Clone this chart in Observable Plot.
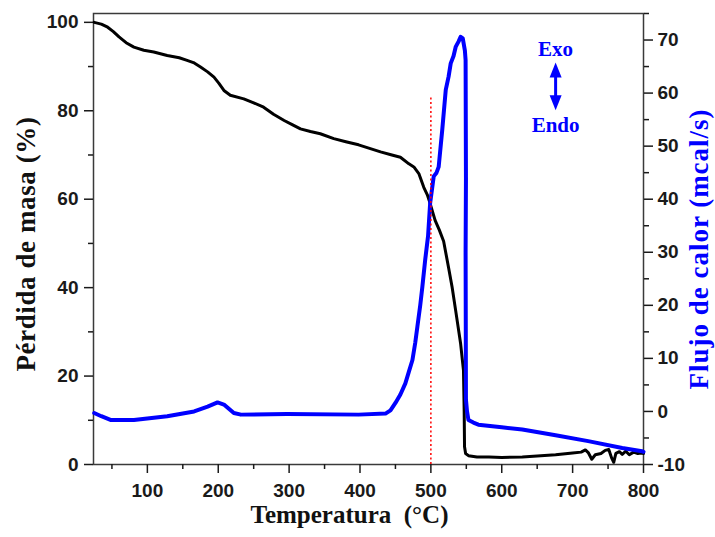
<!DOCTYPE html>
<html>
<head>
<meta charset="utf-8">
<script src="https://cdn.jsdelivr.net/npm/d3@7"></script>
<script src="https://cdn.jsdelivr.net/npm/@observablehq/plot@0.6"></script>
<style>
  html, body { margin: 0; padding: 0; background: #fff; }
  #chart svg { display: block; }
</style>
</head>
<body>
<div id="chart"></div>
<script>
// ---- Data ----
const temperaturaMasa = [25,35,44,52,60,70,81,95,109,128,145,156,165,175,185,194,201,208,217,236,250,264,278,293,305,316,330,344,363,380,398,429,445,457,469,476,483,490,495,499,506,512,518,525,530,535,542,546,547,547.5,549,553,565,582,600,629,650,676,700,712,718,722,727,732,740,746,751,755,758,761,766,770,775,780,786,792,797,800];
const perdidaMasa = [100,99.6,98.9,97.9,96.7,95.4,94.4,93.7,93.3,92.5,92,91.4,90.9,89.9,88.8,87.6,86.2,84.6,83.5,82.7,81.8,80.8,79.2,77.8,76.8,75.9,75.3,74.8,73.7,73,72.3,70.7,70,69.5,68,67.3,65.8,62.7,61,59,55.2,53,50.5,44.5,40.1,34.8,27.3,21.3,12,4,2.5,2,1.7,1.7,1.6,1.7,1.9,2.2,2.6,2.8,3.3,2.7,1.2,2.2,2.5,3.2,3.4,1.5,0.5,2.5,2.9,2.3,3,2.2,2.8,2.5,2.6,2.5];

const temperaturaCalor = [25,35,48,81,128,166,185,199,208,222,232,297,398,436,443,450,457,464,469,474,478,481,485,488,492,496,499,504,508,511,516,521,525,528,532,535,539,542,545,548,549,549.5,549,549.5,551,553,560,567,600,629,676,722,770,798,800];
const flujoCalor = [-0.3,-0.9,-1.6,-1.6,-0.9,0,0.9,1.7,1.3,-0.3,-0.6,-0.5,-0.6,-0.4,0.2,1.6,3.2,5.3,7.5,9.7,13,16,20,23.5,28.6,33,39.3,44.3,45,46.1,53,60.6,63.1,65.6,67,68.7,69.7,70.6,70.3,68,66.2,44,30,2.2,0,-1.6,-2.1,-2.5,-3,-3.4,-4.5,-5.6,-6.9,-7.5,-7.6];

const xTicks = [100,200,300,400,500,600,700,800];
const xMinorTicks = [50,150,250,350,450,550,650,750];
const yLeftTicks = [0,20,40,60,80,100];
const yLeftMinorTicks = [10,30,50,70,90];
const yRightTicks = [-10,0,10,20,30,40,50,60,70];
const yRightMinorTicks = [-5,5,15,25,35,45,55,65,75];

const xTitle = "Temperatura  (°C)";
const yLeftTitle = "Pérdida de masa (%)";
const yRightTitle = "Flujo de calor (mcal/s)";
const exoLabel = "Exo";
const endoLabel = "Endo";

// reference line & annotation anchors (data units)
const referenceTemp = 500;
const referenceTop = 83;
const annotTemp = 676;

// ---- Scales: right axis (-10..75) mapped onto left axis (0..102) ----
const leftDomain = [0, 102];
const rightDomain = [-10, 75];
const k = (leftDomain[1] - leftDomain[0]) / (rightDomain[1] - rightDomain[0]);
const toLeft = r => (r - rightDomain[0]) * k + leftDomain[0];
const fromLeft = v => (v - leftDomain[0]) / k + rightDomain[0];

const masaData = temperaturaMasa.map((t, i) => ({t, v: perdidaMasa[i]}));
const calorData = temperaturaCalor.map((t, i) => ({t, v: toLeft(flujoCalor[i])}));

const triUp = {draw(ctx) { ctx.moveTo(0, -7.5); ctx.lineTo(6, 7.5); ctx.lineTo(-6, 7.5); ctx.closePath(); }};
const triDown = {draw(ctx) { ctx.moveTo(0, 7.5); ctx.lineTo(6, -7.5); ctx.lineTo(-6, -7.5); ctx.closePath(); }};

const tickFont = {fontFamily: "'Liberation Sans', Arial, sans-serif", fontSize: 19, fontWeight: "bold"};
const titleFont = {fontFamily: "'Liberation Serif', 'Times New Roman', serif", fontWeight: "bold"};

const chart = Plot.plot({
  width: 715,
  height: 537,
  marginLeft: 93,
  marginRight: 72,
  marginTop: 13,
  marginBottom: 73,
  style: {color: "#1a1a1a", background: "#fff"},
  x: {domain: [24, 800], label: null},
  y: {domain: leftDomain, label: null},
  marks: [
    Plot.frame({stroke: "#3a3a3a", strokeWidth: 1.5}),
    Plot.axisX(xTicks, {anchor: "bottom", tickSize: 9, tickPadding: 10, strokeWidth: 1.5, label: null, ...tickFont}),
    Plot.axisX(xMinorTicks, {anchor: "bottom", tickSize: 5, strokeWidth: 1.5, tickFormat: () => "", label: null}),
    Plot.axisY(yLeftTicks, {anchor: "left", tickSize: 9, tickPadding: 6, strokeWidth: 1.5, label: null, ...tickFont}),
    Plot.axisY(yLeftMinorTicks, {anchor: "left", tickSize: 5, strokeWidth: 1.5, tickFormat: () => "", label: null}),
    Plot.axisY(yRightTicks.map(toLeft), {anchor: "right", tickSize: 9, tickPadding: 5, strokeWidth: 1.5, label: null,
      tickFormat: d => String(Math.round(fromLeft(d))), ...tickFont}),
    Plot.axisY(yRightMinorTicks.map(toLeft), {anchor: "right", tickSize: 5, strokeWidth: 1.5, tickFormat: () => "", label: null}),

    Plot.line(masaData, {x: "t", y: "v", stroke: "#000", strokeWidth: 3, strokeLinejoin: "round"}),
    Plot.line(calorData, {x: "t", y: "v", stroke: "#0000ff", strokeWidth: 4, strokeLinejoin: "round"}),
    Plot.ruleX([referenceTemp], {y1: 0, y2: referenceTop, stroke: "#ff0000", strokeWidth: 1.5, strokeDasharray: "2,2.5"}),

    // Exo / Endo annotation
    Plot.text([exoLabel], {x: annotTemp, y: 94, text: d => d, fill: "#0000ff", fontSize: 21, ...titleFont}),
    Plot.text([endoLabel], {x: annotTemp, y: 76.7, text: d => d, fill: "#0000ff", fontSize: 21, ...titleFont}),
    Plot.ruleX([annotTemp], {y1: 82, y2: 89, stroke: "#0000ff", strokeWidth: 3}),
    Plot.dot([0], {x: annotTemp, y: 89.2, symbol: triUp, fill: "#0000ff", stroke: null}),
    Plot.dot([0], {x: annotTemp, y: 81.8, symbol: triDown, fill: "#0000ff", stroke: null}),

    // Axis titles
    Plot.text([xTitle], {frameAnchor: "bottom", dx: -19, dy: 58, text: d => d, fill: "#111", fontSize: 25, ...titleFont}),
    Plot.text([yLeftTitle], {frameAnchor: "left", rotate: -90, dx: -67, dy: 5, textAnchor: "middle", text: d => d, fill: "#111", fontSize: 27, ...titleFont}),
    Plot.text([yRightTitle], {frameAnchor: "right", rotate: -90, dx: 56, dy: 10, textAnchor: "middle", text: d => d, fill: "#0000ff", fontSize: 27, ...titleFont})
  ]
});
d3.select(chart).selectAll("text")
  .filter(function() { return this.textContent === yRightTitle; })
  .attr("letter-spacing", "1px");
d3.select(chart).selectAll("text")
  .filter(function() { return this.textContent === yLeftTitle; })
  .attr("letter-spacing", "0.6px");
document.getElementById("chart").append(chart);
</script>
</body>
</html>
